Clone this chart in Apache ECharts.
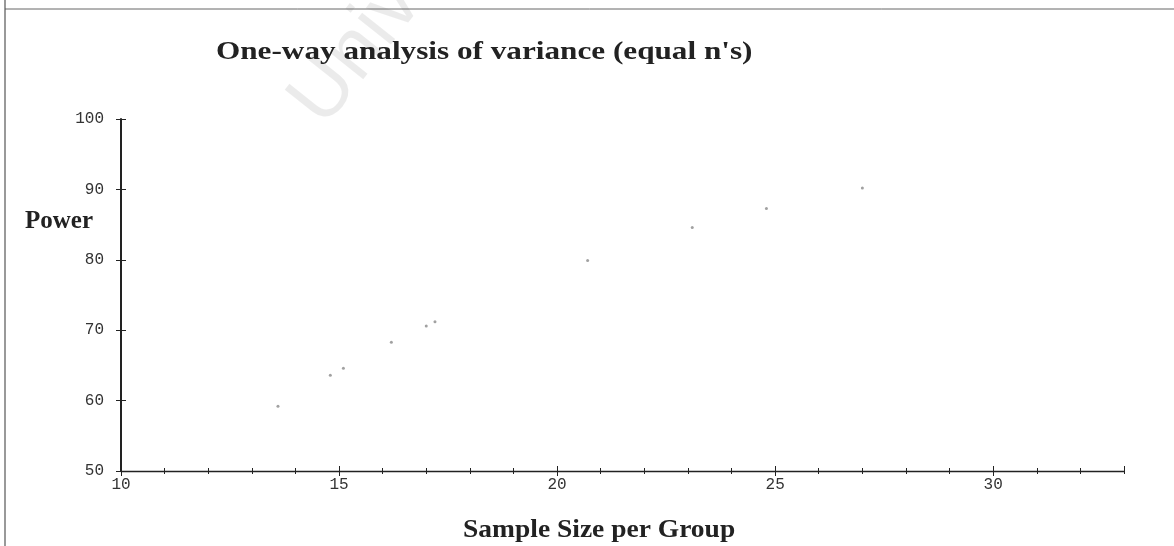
<!DOCTYPE html>
<html>
<head>
<meta charset="utf-8">
<title>One-way analysis of variance</title>
<script src="https://cdn.jsdelivr.net/npm/echarts@6/dist/echarts.min.js"></script>
<style>
  html, body { margin: 0; padding: 0; background: #fff; }
  #chart { width: 1174px; height: 546px; }
</style>
</head>
<body>
<div id="chart"></div>
<script>
// values
let sampleSize = [13.6, 14.8, 15.1, 16.2, 17.0, 17.2, 20.7, 23.1, 24.8, 27.0];
let power = [59.2, 63.6, 64.6, 68.3, 70.6, 71.2, 79.9, 84.6, 87.3, 90.2];

let titleText = "One-way analysis of variance (equal n's)";
let xName = 'Sample Size per Group';
let yName = 'Power';

let ink = '#222';
let monoFont = { fontFamily: 'Liberation Mono', fontSize: 16, color: '#333' };

let points = [];
for (let i = 0; i < sampleSize.length; i++) {
    points.push([sampleSize[i], power[i]]);
}

// extra overlaid axes only draw ticks, so they cross the axis line
function tickAxis(interval, inside, len) {
    return {
        type: 'value', position: 'bottom', min: 10, max: 33, interval: interval,
        axisLine: { show: false },
        axisTick: { show: true, inside: inside, length: len, lineStyle: { color: ink } },
        axisLabel: { show: false },
        splitLine: { show: false }
    };
}

let option = {
    animation: false,
    grid: { left: 121, right: 50, top: 119, bottom: 75 },
    xAxis: [{
        type: 'value', position: 'bottom',
        min: 10, max: 33, interval: 5,
        axisLine: { lineStyle: { color: ink, width: 1.3 } },
        axisTick: { length: 5, lineStyle: { color: ink } },
        axisLabel: Object.assign({ margin: 6, showMaxLabel: false }, monoFont),
        splitLine: { show: false }
    },
        tickAxis(5, true, 5),
        tickAxis(1, false, 3),
        tickAxis(1, true, 3)
    ],
    yAxis: [{
        type: 'value', position: 'left',
        min: 50, max: 100, interval: 10,
        axisLine: { show: true, lineStyle: { color: ink, width: 2 } },
        axisTick: { show: true, length: 5, lineStyle: { color: ink } },
        axisLabel: Object.assign({ margin: 17 }, monoFont),
        splitLine: { show: false }
    }, {
        type: 'value', position: 'left',
        min: 50, max: 100, interval: 10,
        axisLine: { show: false },
        axisTick: { show: true, inside: true, length: 5, lineStyle: { color: ink } },
        axisLabel: { show: false },
        splitLine: { show: false }
    }],
    graphic: [
        // faint watermark behind the chart
        { type: 'text', x: 338, y: 140, rotation: 0.9, z: -10, silent: true,
          style: { text: 'University', font: '80px "Liberation Sans"', fill: 'rgba(0,0,0,0.08)',
                   verticalAlign: 'bottom' } },
        // scanned frame edges
        { type: 'line', shape: { x1: 5, y1: 9, x2: 1174, y2: 9 }, style: { stroke: '#666', lineWidth: 1 } },
        { type: 'line', shape: { x1: 5, y1: 0, x2: 5, y2: 546 }, style: { stroke: '#555', lineWidth: 1.2 } },
        { type: 'text', x: 216, y: 52, scaleX: 1.2,
          style: { text: titleText, font: 'bold 26px "Liberation Serif"', fill: ink,
                   verticalAlign: 'middle' } },
        { type: 'text', x: 25, y: 222,
          style: { text: yName, font: 'bold 25px "Liberation Serif"', fill: ink,
                   verticalAlign: 'middle' } },
        { type: 'text', x: 463, y: 531, scaleX: 1.1,
          style: { text: xName, font: 'bold 25px "Liberation Serif"', fill: ink,
                   verticalAlign: 'middle' } }
    ],
    series: [{
        name: yName,
        type: 'scatter',
        symbol: 'circle',
        symbolSize: 3,
        itemStyle: { color: '#8a8a8a' },
        data: points
    }]
};

let myChart = echarts.init(document.getElementById('chart'));
myChart.setOption(option);
</script>
</body>
</html>
